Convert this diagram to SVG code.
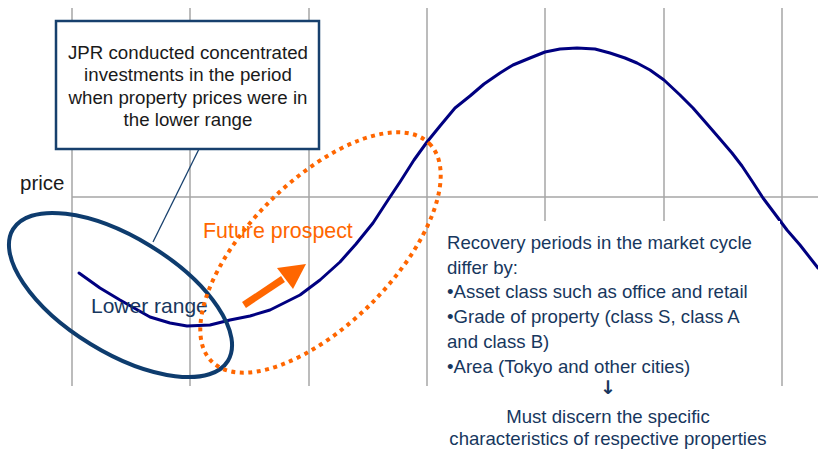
<svg xmlns="http://www.w3.org/2000/svg" width="818" height="451" viewBox="0 0 818 451">
  <style>
    .grid { stroke: #a6a6a6; stroke-width: 1.5; fill: none; }
    .t { font-family: "Liberation Sans", Arial, sans-serif; }
    .callout-text { font-size: 18.7px; fill: #1a1a1a; text-anchor: middle; }
    .note { font-size: 18.6px; fill: #17375e; }
  </style>

  <rect width="818" height="451" fill="#ffffff"/>

  <!-- chart grid -->
  <g id="grid">
    <path class="grid" d="M72,8 V386 M190,8 V386 M309,8 V386 M427,8 V386 M545,8 V386 M664,8 V386 M782,8 V386"/>
    <path class="grid" d="M72,197 H818"/>
  </g>

  <!-- axis label -->
  <g id="axis-label">
    <text class="t" x="20" y="190" font-size="20.5" fill="#1a1a1a">price</text>
  </g>

  <!-- market cycle curve -->
  <g id="cycle-curve">
    <path d="M79,273 L100,288 L120,300 L150,317 L170,323 L187,326 L210,325 L230,320 L250,316 L270,310 L300,295 L320,280 L340,262 L356,244 L373,223 L388,200 L400,182 L414,160 L427,142 L440,126 L455,108 L470,96 L484,84 L500,73 L513,65 L530,58 L545,52 L560,49 L577,48 L595,49 L610,53 L625,58 L637,63 L650,70 L664,80 L680,95 L693,108 L707,124 L720,139 L732,153 L742,166 L752,181 L763,198 L775,214 L787,230 L800,245 L818,268" fill="none" stroke="#000080" stroke-width="3" stroke-linejoin="round" stroke-linecap="round"/>
  </g>

  <!-- lower range ellipse -->
  <g id="lower-range">
    <ellipse cx="120.5" cy="295" rx="126" ry="57.5" transform="rotate(31.5 120.5 295)" fill="none" stroke="#0e3c6e" stroke-width="4"/>
    <text class="t" x="91" y="313" font-size="21" fill="#17375e">Lower range</text>
  </g>

  <!-- future prospect ellipse -->
  <g id="future-prospect">
    <ellipse cx="320.5" cy="252.5" rx="154" ry="72" transform="rotate(-45 320.5 252.5)" fill="none" stroke="#ff6600" stroke-width="4" stroke-dasharray="4 4.5"/>
    <text class="t" x="203" y="238" font-size="21.4" fill="#ff6600">Future prospect</text>
  </g>

  <!-- upward arrow -->
  <g id="prospect-arrow">
    <line x1="244" y1="305" x2="283" y2="279" stroke="#ff6600" stroke-width="7"/>
    <polygon points="306,264 277,268 293,289" fill="#ff6600"/>
  </g>

  <!-- connectors -->
  <g id="connectors">
    <line x1="199" y1="149" x2="153" y2="242" stroke="#17406d" stroke-width="1.3"/>
  </g>

  <!-- callout box -->
  <g id="callout">
    <rect x="56" y="21" width="263" height="128" fill="#ffffff" stroke="#17406d" stroke-width="2.5"/>
    <text class="t callout-text" x="188" y="59">JPR conducted concentrated</text>
    <text class="t callout-text" x="188" y="81">investments in the period</text>
    <text class="t callout-text" x="188" y="104">when property prices were in</text>
    <text class="t callout-text" x="188" y="126">the lower range</text>
  </g>

  <!-- recovery note -->
  <g id="recovery-note">
    <rect x="430" y="221" width="350" height="168" fill="#ffffff"/>
    <text class="t note" x="447" y="249">Recovery periods in the market cycle</text>
    <text class="t note" x="447" y="274">differ by:</text>
    <text class="t note" x="447" y="298">•Asset class such as office and retail</text>
    <text class="t note" x="447" y="323">•Grade of property (class S, class A</text>
    <text class="t note" x="447" y="348">and class B)</text>
    <text class="t note" x="447" y="373">•Area (Tokyo and other cities)</text>
    <text x="608" y="394" text-anchor="middle" font-family="'DejaVu Sans', sans-serif" font-size="19" font-weight="bold" fill="#17375e">↓</text>
    <text class="t note" x="608" y="423" text-anchor="middle">Must discern the specific</text>
    <text class="t note" x="608" y="445" text-anchor="middle">characteristics of respective properties</text>
  </g>
</svg>
